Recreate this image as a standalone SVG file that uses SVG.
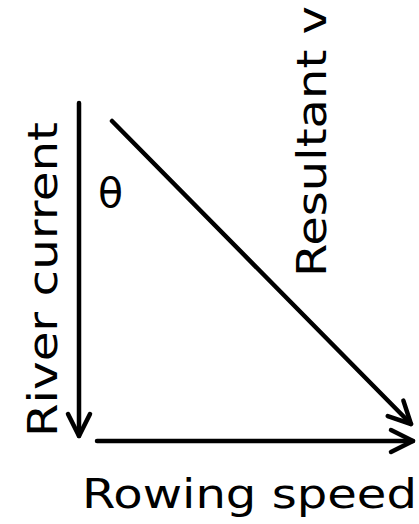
<svg xmlns="http://www.w3.org/2000/svg" width="419" height="524" viewBox="0 0 419 524">
  <style>
    .lbl { font-family: "DejaVu Sans", Verdana, sans-serif; font-size: 41px; fill: #000; }
    .vec { stroke: #000; stroke-width: 4.5; fill: none; stroke-linecap: round; }
  </style>
  <defs>
    <marker id="arr" markerUnits="userSpaceOnUse" viewBox="-26 -14 30 28" refX="0" refY="0" markerWidth="30" markerHeight="28" orient="auto" overflow="visible">
      <path d="M -22,-11 L 0,0 L -22,11" fill="none" stroke="#000" stroke-width="4.5" stroke-linecap="round" stroke-linejoin="round"/>
    </marker>
  </defs>
  <rect width="419" height="524" fill="#fff"/>
  <g id="connectors">
    <line id="river" class="vec" x1="79" y1="103" x2="79" y2="436" marker-end="url(#arr)"/>
    <line id="rowing" class="vec" x1="97" y1="441" x2="413" y2="441" marker-end="url(#arr)"/>
    <line id="resultant" class="vec" x1="112" y1="121" x2="411" y2="424" marker-end="url(#arr)"/>
  </g>
  <g id="label-river">
    <text class="lbl" transform="translate(57,437) rotate(-90)" textLength="315" lengthAdjust="spacingAndGlyphs">River current</text>
  </g>
  <g id="label-resultant">
    <text class="lbl" transform="translate(326,277) rotate(-90)" textLength="271" lengthAdjust="spacingAndGlyphs">Resultant v</text>
  </g>
  <g id="label-rowing">
    <text class="lbl" x="82" y="508" textLength="335" lengthAdjust="spacingAndGlyphs">Rowing speed</text>
  </g>
  <g id="label-theta">
    <text class="lbl" x="98" y="207">θ</text>
  </g>
</svg>
